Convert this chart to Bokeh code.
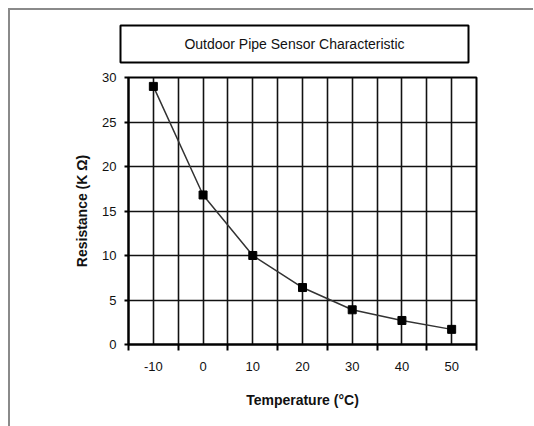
from bokeh.plotting import figure
from bokeh.layouts import column
from bokeh.models import FixedTicker, Range1d
from bokeh.core.properties import value
from bokeh.embed import file_html
from bokeh.resources import INLINE

# data
temperature = [-10, 0, 10, 20, 30, 40, 50]
resistance = [29, 16.8, 10, 6.4, 3.9, 2.7, 1.7]

x_labels = [-10, 0, 10, 20, 30, 40, 50]
x_minor = [-15, -5, 5, 15, 25, 35, 45, 55]
x_grid = [-15, -10, -5, 0, 5, 10, 15, 20, 25, 30, 35, 40, 45, 50, 55]
y_ticks = [0, 5, 10, 15, 20, 25, 30]

title_text = "Outdoor Pipe Sensor Characteristic"
x_title = "Temperature (°C)"
y_title = "Resistance (K Ω)"

FONT = "Liberation Sans"
W = 523
LEFT = 118
FRAME_W = 348
TH = 55

# ---- title strip (pixel-like ranges, y downward) ----
t = figure(width=W, height=TH, output_backend="svg", toolbar_location=None,
           x_range=Range1d(0, W), y_range=Range1d(TH, 0),
           min_border=0, x_axis_location=None, y_axis_location=None)
t.frame_align = False
t.grid.visible = False
t.outline_line_color = None
t.background_fill_color = "white"
t.border_fill_color = "white"
t.rect(x=[284], y=[33.5], width=348, height=37, width_units="screen",
       height_units="screen", fill_color="white", line_color="black", line_width=2)
t.text(x=[284], y=[33.5], text=[title_text], text_align="center",
       text_baseline="middle", text_font=value(FONT), text_font_size="14px",
       text_color="#111111")

# ---- main chart ----
p = figure(width=W, height=416 - TH, output_backend="svg", toolbar_location=None,
           x_range=Range1d(-15, 55), y_range=Range1d(0, 30),
           min_border_left=LEFT, min_border_right=W - LEFT - FRAME_W,
           min_border_top=67 - TH, min_border_bottom=82)

p.outline_line_color = "black"
p.outline_line_width = 2
p.background_fill_color = "white"
p.border_fill_color = "white"

p.xgrid.ticker = FixedTicker(ticks=x_grid)
p.ygrid.ticker = FixedTicker(ticks=y_ticks)
for g in (p.xgrid, p.ygrid):
    g.grid_line_color = "#111111"
    g.grid_line_width = 1.6
    g.grid_line_alpha = 1.0

xa = p.xaxis[0]
xa.ticker = FixedTicker(ticks=x_labels, minor_ticks=x_minor)
xa.major_label_overrides = {v: str(v) for v in x_labels}
xa.major_tick_line_color = None
xa.major_tick_out = 6
xa.major_tick_in = 0
xa.minor_tick_line_color = "black"
xa.minor_tick_line_width = 2
xa.minor_tick_out = 6
xa.minor_tick_in = 0
xa.axis_line_color = "black"
xa.axis_line_width = 2
xa.major_label_standoff = 11
xa.major_label_text_font = FONT
xa.major_label_text_font_size = "13px"
xa.major_label_text_color = "#111111"
xa.axis_label = x_title
xa.axis_label_text_font = FONT
xa.axis_label_text_font_size = "14px"
xa.axis_label_text_font_style = "bold"
xa.axis_label_text_color = "#111111"
xa.axis_label_standoff = 18

ya = p.yaxis[0]
ya.ticker = FixedTicker(ticks=y_ticks)
ya.major_label_overrides = {v: str(v) for v in y_ticks}
ya.major_tick_line_color = "black"
ya.major_tick_line_width = 2
ya.major_tick_out = 4
ya.major_tick_in = 0
ya.minor_tick_line_color = None
ya.axis_line_color = "black"
ya.axis_line_width = 2
ya.major_label_standoff = 8
ya.major_label_text_font = FONT
ya.major_label_text_font_size = "13px"
ya.major_label_text_color = "#111111"
ya.axis_label = y_title
ya.axis_label_text_font = FONT
ya.axis_label_text_font_size = "14px"
ya.axis_label_text_font_style = "bold"
ya.axis_label_text_color = "#111111"
ya.axis_label_standoff = 9

p.line(temperature, resistance, line_color="#333333", line_width=1.5)
p.scatter(temperature, resistance, marker="square", size=8,
          fill_color="black", line_color="black")

layout = column(t, p, spacing=0)
layout.styles = {"margin-left": "8px", "margin-top": "8px",
                 "border-top": "2px solid #8a8a8a", "border-left": "2px solid #8a8a8a"}

open("out.html", "w").write(file_html(layout, INLINE))
